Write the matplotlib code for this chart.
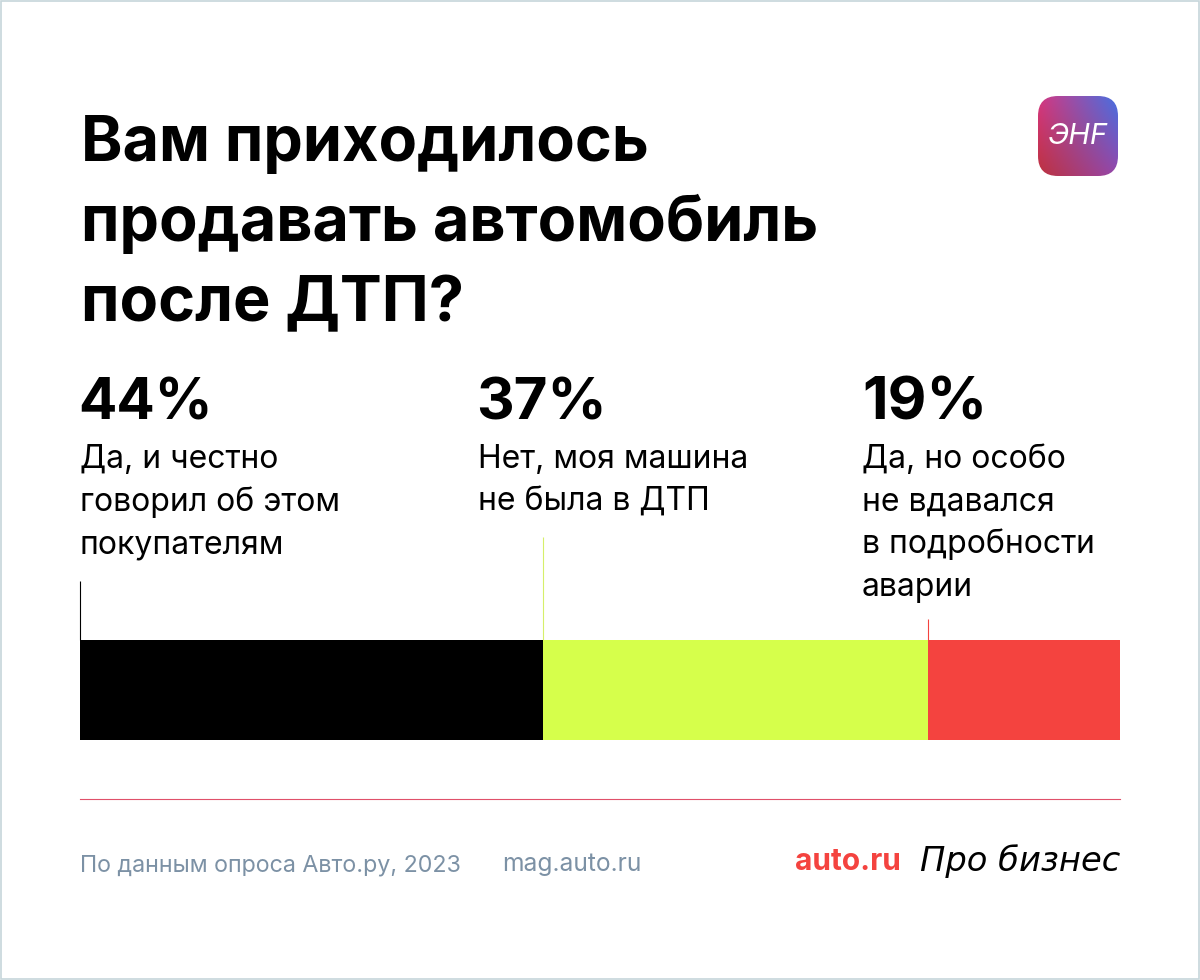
import numpy as np
import matplotlib
matplotlib.use('Agg')
import matplotlib.pyplot as plt
from matplotlib.patches import FancyBboxPatch, Rectangle

W, H = 1200, 980

TITLE_LINES = ['Вам приходилось', 'продавать автомобиль', 'после ДТП?']
PERCENT_LABELS = ['44%', '37%', '19%']
ANSWERS = [
    ['Да, и честно', 'говорил об этом', 'покупателям'],
    ['Нет, моя машина', 'не была в ДТП'],
    ['Да, но особо', 'не вдавался', 'в подробности', 'аварии'],
]
# bar widths as drawn in the picture (slightly off the rounded labels)
SHARES = [44.5, 37.0, 18.5]
COLORS = ['#000000', '#d6ff4b', '#f4433f']
TICK_COLORS = ['#000000', '#d6ef6a', '#f4433f']
LABEL_X = [80, 478, 862]
PCT_X = [78, 476, 862]
PCT_SIZE = [41, 42, 43]
TICK_TOP = [581, 537, 619]

plt.rcParams['font.family'] = ['Inter', 'DejaVu Sans']

fig = plt.figure(figsize=(W / 100, H / 100), dpi=100, facecolor='white')

# overlay in pixel coordinates for text and furniture
ax = fig.add_axes([0, 0, 1, 1])
ax.set_xlim(0, W)
ax.set_ylim(H, 0)
ax.axis('off')

ax.add_patch(Rectangle((1, 1), W - 2, H - 2, fill=False, ec='#c6d6da', lw=1.2))

for i, line in enumerate(TITLE_LINES):
    ax.text(81, 161 + i * 80, line, fontsize=45.3, fontweight='bold', color='black', va='baseline')

for i, pct in enumerate(PERCENT_LABELS):
    ax.text(PCT_X[i], 419, pct, fontsize=PCT_SIZE[i], fontweight='bold', color='black', va='baseline')
    for j, line in enumerate(ANSWERS[i]):
        ax.text(LABEL_X[i], 468 + j * 42.5, line, fontsize=23, color='black', va='baseline')

# stacked bar
bar_ax = fig.add_axes([80 / W, 1 - 740 / H, 1040 / W, 100 / H])
bar_ax.set_xlim(0, 100)
bar_ax.set_ylim(0, 1)
bar_ax.axis('off')
lefts = np.concatenate([[0], np.cumsum(SHARES)[:-1]])
bar_ax.barh([0.5], SHARES[0], left=lefts[0], height=1, color=COLORS[0])
bar_ax.barh([0.5], SHARES[1], left=lefts[1], height=1, color=COLORS[1])
bar_ax.barh([0.5], SHARES[2], left=lefts[2], height=1, color=COLORS[2])

# leader lines going up from the start of every segment
for left, top, c in zip(lefts, TICK_TOP, TICK_COLORS):
    px = 80 + left / 100 * 1040
    ax.plot([px + 0.4, px + 0.4], [top, 640], color=c, lw=0.8, solid_capstyle='butt')

ax.plot([80, 1120], [799.4, 799.4], color='#e0506a', lw=0.8)

ax.text(80, 871, 'По данным опроса Авто.ру, 2023', fontsize=16.75, color='#7c91a5', va='baseline')
ax.text(502, 871, 'mag.auto.ru', fontsize=17.7, color='#7c91a5', va='baseline')
ax.text(795, 870, 'auto.ru', fontsize=21.5, fontweight='bold', color='#f4433f', va='baseline')
ax.text(920, 871, 'Про бизнес', fontsize=24.3, style='italic', color='black', va='baseline',
        family=['DejaVu Sans'])

# logo: gradient square with rounded corners
corners = np.array([[[214, 55, 130], [70, 112, 225]],
                    [[188, 50, 62], [150, 70, 170]]], dtype=float) / 255
ty, tx = np.mgrid[0:1:80j, 0:1:80j]
grad = ((1 - ty) * (1 - tx))[..., None] * corners[0, 0] + ((1 - ty) * tx)[..., None] * corners[0, 1] \
    + (ty * (1 - tx))[..., None] * corners[1, 0] + (ty * tx)[..., None] * corners[1, 1]
im = ax.imshow(grad, extent=(1038, 1118, 176, 96), interpolation='bilinear', aspect='auto', zorder=2)
clip = FancyBboxPatch((1038 + 20, 96 + 20), 40, 40, boxstyle='round,pad=20,rounding_size=20',
                      fc='none', ec='none', transform=ax.transData)
ax.add_patch(clip)
im.set_clip_path(clip)
ax.set_xlim(0, W)
ax.set_ylim(H, 0)
ax.text(1078, 137, 'ЭНF', fontsize=21, style='italic', color='white', ha='center', va='center', zorder=3)

fig.savefig('out.png', dpi=100, facecolor='white')
